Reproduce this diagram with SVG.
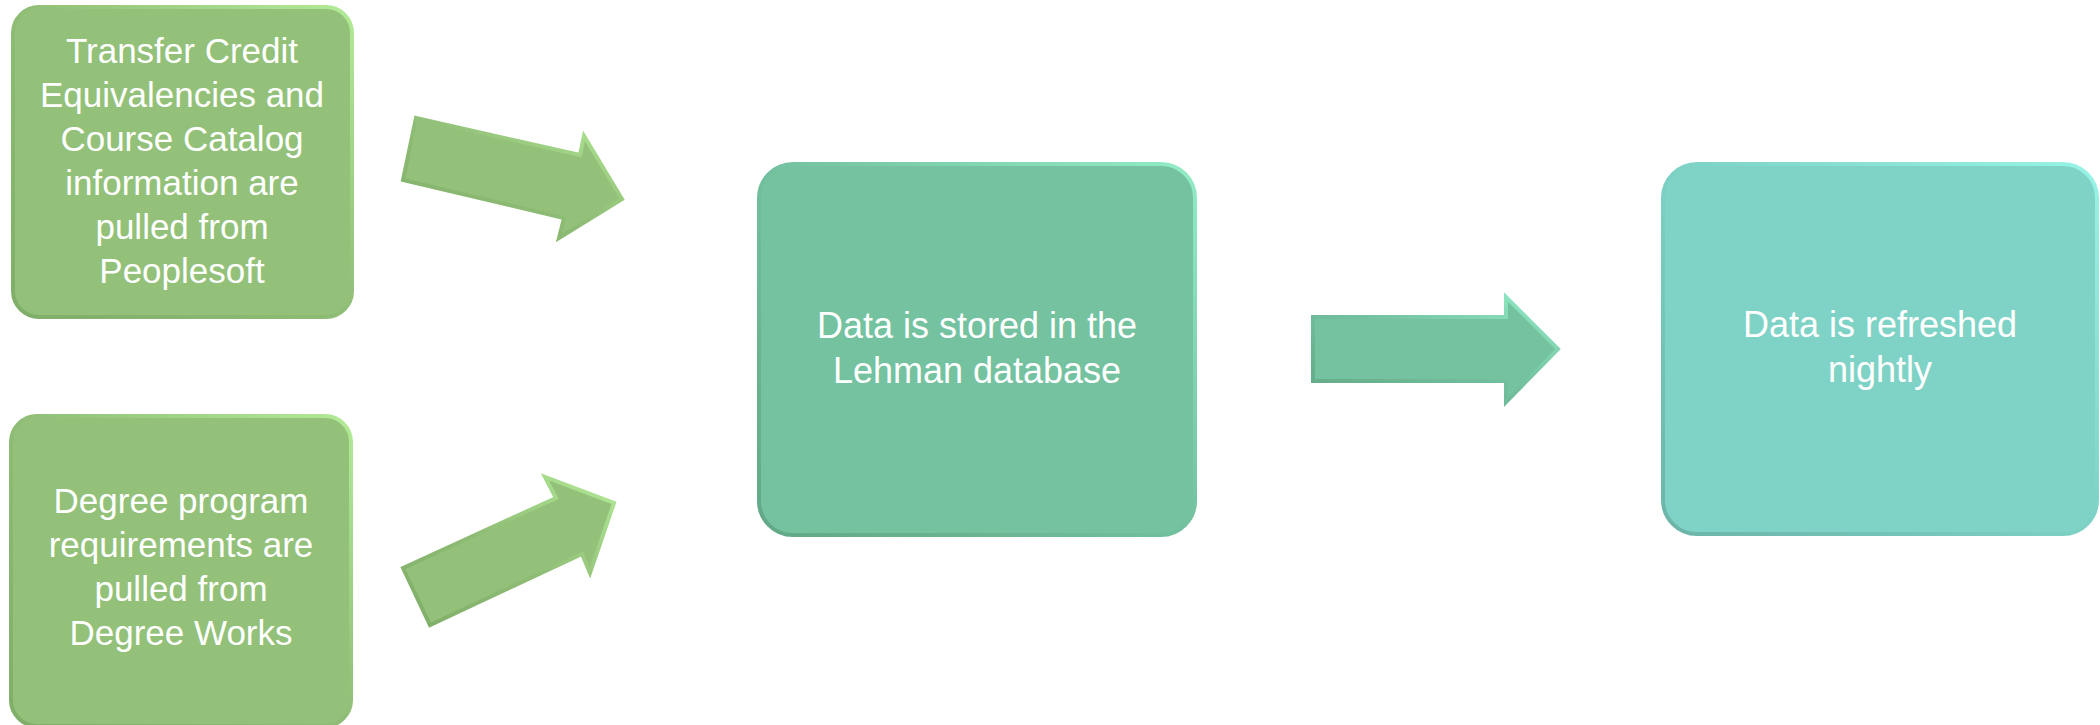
<svg xmlns="http://www.w3.org/2000/svg" width="2100" height="725" viewBox="0 0 2100 725">
  <defs>
    <linearGradient id="edgeGreen" x1="0" y1="1" x2="1" y2="0">
      <stop offset="0" stop-color="#7fae68"/>
      <stop offset="0.5" stop-color="#8fbd76"/>
      <stop offset="1" stop-color="#b2ea96"/>
    </linearGradient>
    <linearGradient id="edgeTeal" x1="0" y1="1" x2="1" y2="0">
      <stop offset="0" stop-color="#62a886"/>
      <stop offset="0.5" stop-color="#73c09e"/>
      <stop offset="1" stop-color="#92ecc6"/>
    </linearGradient>
    <linearGradient id="edgeAqua" x1="0" y1="1" x2="1" y2="0">
      <stop offset="0" stop-color="#6cb4a8"/>
      <stop offset="0.5" stop-color="#7dd1c4"/>
      <stop offset="1" stop-color="#98f4e6"/>
    </linearGradient>
    <style>
      .green { fill: #93c179; stroke: url(#edgeGreen); stroke-width: 4; }
      .teal { fill: #74c2a0; stroke: url(#edgeTeal); stroke-width: 4; }
      .aqua { fill: #7fd3c6; stroke: url(#edgeAqua); stroke-width: 4; }
      .label { font-family: "Liberation Sans", Arial, sans-serif; font-size: 35px; fill: #ffffff; text-anchor: middle; }
      .label36 { font-family: "Liberation Sans", Arial, sans-serif; font-size: 36px; fill: #ffffff; text-anchor: middle; }
    </style>
  </defs>
  <rect width="2100" height="725" fill="#ffffff"/>

  <g id="node-peoplesoft">
    <rect class="green" x="13" y="7" width="339" height="310" rx="26" ry="26"/>
    <text class="label" x="182" y="63">Transfer Credit</text>
    <text class="label" x="182" y="107">Equivalencies and</text>
    <text class="label" x="182" y="151">Course Catalog</text>
    <text class="label" x="182" y="195">information are</text>
    <text class="label" x="182" y="239">pulled from</text>
    <text class="label" x="182" y="283">Peoplesoft</text>
  </g>

  <g id="node-degreeworks">
    <rect class="green" x="11" y="416" width="340" height="310" rx="26" ry="26"/>
    <text class="label" x="181" y="513">Degree program</text>
    <text class="label" x="181" y="557">requirements are</text>
    <text class="label" x="181" y="601">pulled from</text>
    <text class="label" x="181" y="645">Degree Works</text>
  </g>

  <g id="node-database">
    <rect class="teal" x="759" y="164" width="436" height="371" rx="34" ry="34"/>
    <text class="label36" x="977" y="338">Data is stored in the</text>
    <text class="label36" x="977" y="383">Lehman database</text>
  </g>

  <g id="node-refresh">
    <rect class="aqua" x="1663" y="164" width="434" height="370" rx="34" ry="34"/>
    <text class="label36" x="1880" y="337">Data is refreshed</text>
    <text class="label36" x="1880" y="382">nightly</text>
  </g>

  <g id="connectors">
    <polygon class="green" stroke-width="3" points="416,118 580,155 584,136 622,199 559,238 564,218 403,180"/>
    <polygon class="green" stroke-width="3" points="403,568 556,498 545,477 614,503 590,573 582,554 430,625"/>
    <polygon class="teal" stroke-width="3" points="1313,317 1506,317 1506,297 1558,349 1506,402 1506,381 1313,381"/>
  </g>
</svg>
